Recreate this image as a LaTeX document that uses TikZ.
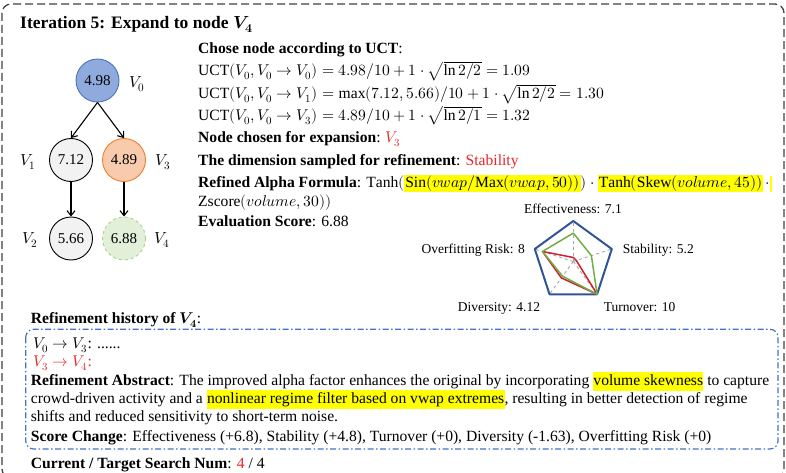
\documentclass[tikz,border=0pt]{standalone}
\usepackage{fontspec}
\usepackage{unicode-math}
\setmainfont{Liberation Serif}
\usetikzlibrary{arrows.meta,calc}
\definecolor{myred}{HTML}{E8262A}
\definecolor{rootfill}{HTML}{8FAADC}
\definecolor{rootdraw}{HTML}{4A72B8}
\definecolor{orfill}{HTML}{F8CBAD}
\definecolor{ordraw}{HTML}{ED7D31}
\definecolor{grfill}{HTML}{E2F0D9}
\definecolor{grdraw}{HTML}{A9D18E}
\definecolor{grayfill}{HTML}{F2F2F2}
\definecolor{radblue}{HTML}{2F5597}
\definecolor{radgreen}{HTML}{70AD47}
\definecolor{radred}{HTML}{D02030}
\definecolor{histblue}{HTML}{4472C4}
\definecolor{hlyellow}{HTML}{FFFF00}
\newcommand{\hlt}[1]{{\setlength{\fboxsep}{0.3pt}\colorbox{hlyellow}{\strut #1}}}
\newcommand{\hlf}[1]{{\setlength{\fboxsep}{0.8pt}\colorbox{hlyellow}{\vphantom{()}#1}}}
\begin{document}
\begin{tikzpicture}[x=1pt,y=-1pt,
  body/.style={font=\fontsize{15.6}{18}\selectfont, anchor=base west, inner sep=0pt},
  rlab/.style={font=\fontsize{13.5}{16}\selectfont, inner sep=0pt},
  vlab/.style={font=\fontsize{16}{18}\selectfont, inner sep=0pt},
  tnode/.style={circle, minimum size=43pt, inner sep=0pt, line width=0.9pt, font=\fontsize{15}{18}\selectfont},
  arr/.style={-{Straight Barb[length=5pt,width=8pt]}, line width=1.1pt},
  spoke/.style={dashed, draw=black!35, line width=0.9pt},
  radpoly/.style={line width=1.5pt, line join=round}
]
\useasboundingbox (0,0) rectangle (786,473);
\clip (0,0) rectangle (786,473);
% outer border
\draw[black!75, line width=1.3pt, dash pattern=on 8pt off 4pt, rounded corners=9pt] (2,4) rectangle (784,478);

% title
\node[anchor=base west, inner sep=0pt, font=\bfseries\fontsize{17.5}{20}\selectfont] (title) at (20,28.5) {Iteration 5: Expand to node $\symbfit{V}_{\symbf{4}}$};

% tree
\node[tnode, fill=rootfill, draw=rootdraw] (v0) at (97.5,80.5) {4.98};
\node[tnode, fill=grayfill, draw=black] (v1) at (71,160) {7.12};
\node[tnode, fill=orfill, draw=ordraw] (v3) at (124,160) {4.89};
\node[tnode, fill=grayfill, draw=black] (v2) at (71,238.5) {5.66};
\node[tnode, fill=grfill, draw=grdraw, dashed] (v4) at (124,238.5) {6.88};
\node[vlab] (l0) at (137,84) {$V_0$};
\node[vlab] (l1) at (28,162.5) {$V_1$};
\node[vlab] (l3) at (163,162.5) {$V_3$};
\node[vlab] (l2) at (30,240.5) {$V_2$};
\node[vlab] (l4) at (162,240.5) {$V_4$};
\draw[arr] (v0.south) -- (v1.north);
\draw[arr] (v0.south) -- (v3.north);
\draw[arr] (v1.south) -- (v2.north);
\draw[arr] (v3.south) -- (v4.north);

% right text
\node[body] (t1) at (198,53.3) {\textbf{Chose node according to UCT}:};
\node[body] (t2) at (198,76) {$\mathrm{UCT}(V_0, V_0 \rightarrow V_0) = 4.98/10 + 1\cdot\sqrt{\ln 2/2} = 1.09$};
\node[body] (t3) at (198,99) {$\mathrm{UCT}(V_0, V_0 \rightarrow V_1) = \max(7.12, 5.66)/10 + 1\cdot\sqrt{\ln 2/2} = 1.30$};
\node[body] (t4) at (198,120.5) {$\mathrm{UCT}(V_0, V_0 \rightarrow V_3) = 4.89/10 + 1\cdot\sqrt{\ln 2/1} = 1.32$};
\node[body] (t5) at (198,143) {\textbf{Node chosen for expansion}: \textcolor{myred}{$V_3$}};
\node[body] (t6) at (198,165) {\textbf{The dimension sampled for refinement}: \textcolor{myred}{Stability}};
\node[body] (t7) at (198,187.7) {\textbf{Refined Alpha Formula}: $\mathrm{Tanh}($\hlf{$\mathrm{Sin}(vwap/\mathrm{Max}(vwap, 50))$}$)\cdot{}$\hlf{$\mathrm{Tanh}(\mathrm{Skew}(volume, 45))$}$\,\cdot$\hlf{\hspace{0.2pt}}};
\node[body] (t8) at (198,206) {$\mathrm{Zscore}(volume, 30))$};
\node[body] (t9) at (198,226.7) {\textbf{Evaluation Score}: 6.88};

% radar chart
\coordinate (C) at (573.3,261.5);
\foreach \a in {90,18,-54,-126,162} \draw[spoke] (C) -- ($(C)+(\a:40.5pt)$);
\draw[radpoly, radblue, line width=2pt] ($(C)+(90:40.5pt)$) -- ($(C)+(18:40.5pt)$) -- ($(C)+(-54:40.5pt)$) -- ($(C)+(-126:40.5pt)$) -- ($(C)+(162:40.5pt)$) -- cycle;
\draw[radpoly, radred] ($(C)+(90:4pt)$) -- ($(C)+(18:3.2pt)$) -- ($(C)+(-54:40.5pt)$) -- ($(C)+(-126:20.3pt)$) -- ($(C)+(162:32.4pt)$) -- cycle;
\draw[radpoly, radgreen] ($(C)+(90:28.4pt)$) -- ($(C)+(18:19pt)$) -- ($(C)+(-54:40.5pt)$) -- ($(C)+(-126:18.2pt)$) -- ($(C)+(162:32.4pt)$) -- cycle;
\node[rlab, anchor=base] (re) at (573,213) {Effectiveness: 7.1};
\node[rlab, anchor=base west] (rs) at (622.7,253) {Stability: 5.2};
\node[rlab, anchor=base east] (ro) at (525,253) {Overfitting Risk: 8};
\node[rlab, anchor=base] (rd) at (499,311.5) {Diversity: 4.12};
\node[rlab, anchor=base] (rt) at (639.5,311.5) {Turnover: 10};

% refinement history
\node[body] (hist) at (30.7,323.3) {\textbf{Refinement history of $\symbfit{V}_{\symbf{4}}$}:};
\draw[histblue, line width=1.2pt, dash pattern=on 6pt off 2.5pt on 1.5pt off 2.5pt, rounded corners=8pt] (25.7,329.3) rectangle (778,449);
\node[body] (h1) at (33,348.3) {$V_0 \rightarrow V_3$: ......};
\node[body, text=myred] (h2) at (33,366.7) {$V_3 \rightarrow V_4$:};
\node[body] (h3) at (30.7,385) {\textbf{Refinement Abstract}: The improved alpha factor enhances the original by incorporating \hlt{volume skewness} to capture};
\node[body] (h4) at (30.7,403.3) {crowd-driven activity and a \hlt{nonlinear regime filter based on vwap extremes}, resulting in better detection of regime};
\node[body] (h5) at (30.7,421.7) {shifts and reduced sensitivity to short-term noise.};
\node[body] (h6) at (30.7,441) {\textbf{Score Change}: Effectiveness (+6.8), Stability (+4.8), Turnover (+0), Diversity (-1.63), Overfitting Risk (+0)};
\node[body] (cur) at (30.7,468.3) {\textbf{Current / Target Search Num}: \textcolor{myred}{4} / 4};
\end{tikzpicture}
\end{document}
